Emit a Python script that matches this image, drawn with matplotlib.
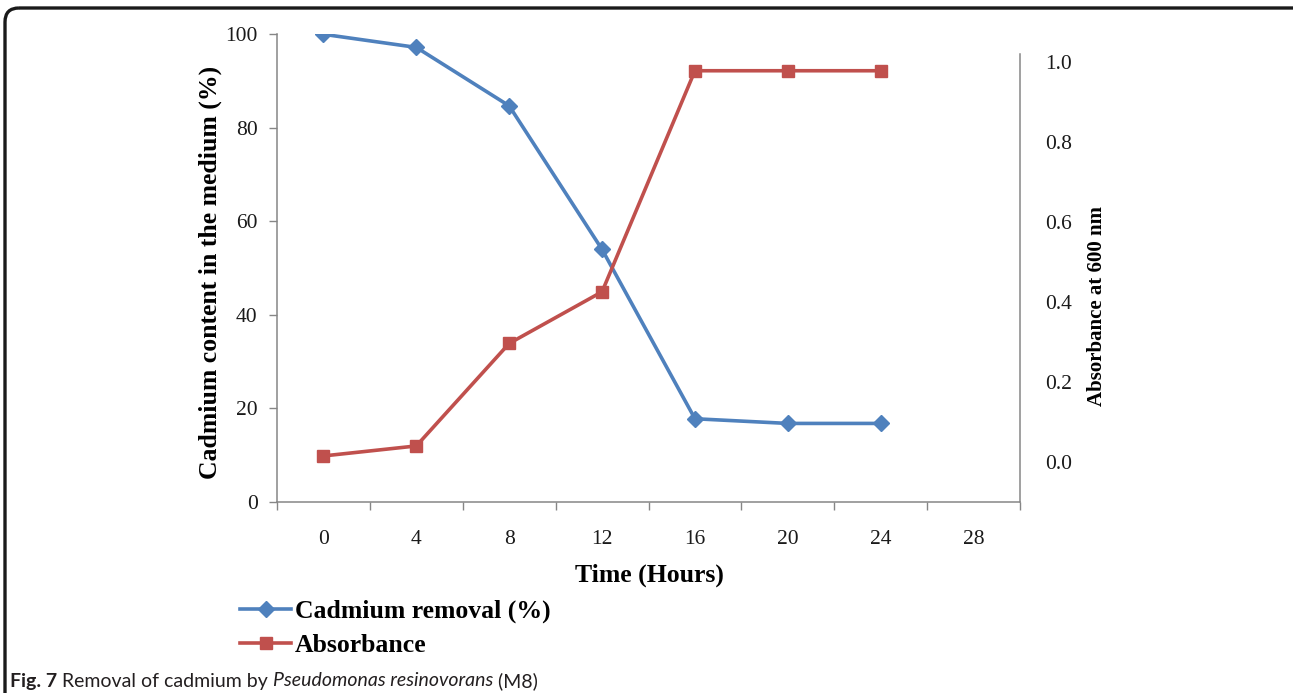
import matplotlib
matplotlib.use('Agg')
import matplotlib.pyplot as plt
from matplotlib.patches import FancyBboxPatch
from matplotlib.font_manager import FontProperties
import numpy as np

# data
hours = [0, 4, 8, 12, 16, 20, 24, 28]
cadmium = [100, 97.2, 84.7, 54.0, 17.8, 16.8, 16.8]
absorbance = [0.015, 0.04, 0.296, 0.425, 0.977, 0.977, 0.977]
left_ticks = [0, 20, 40, 60, 80, 100]
right_ticks = [0.0, 0.2, 0.4, 0.6, 0.8, 1.0]

blue = '#4F81BD'
red = '#C0504D'
grey = '#868686'
serif = 'Liberation Serif'

W, H = 1293, 693
fig = plt.figure(figsize=(W / 100, H / 100), dpi=100)

# background axes in pixel units, for the frame and caption
bg = fig.add_axes([0, 0, 1, 1], zorder=-1)
bg.set_xlim(0, W)
bg.set_ylim(H, 0)
bg.axis('off')
bg.add_patch(FancyBboxPatch((5, 8), 1400, 900, boxstyle='round,pad=0,rounding_size=14',
                            fill=False, lw=2.4, ec='#1a1a1a'))

ax = fig.add_axes([277 / W, 191 / H, 743 / W, 467.7 / H])
x = np.arange(len(cadmium))
l1, = ax.plot(x, cadmium, color=blue, lw=2.6, marker='D', ms=8.5, label='Cadmium removal (%)')
ax.set_xlim(-0.5, len(hours) - 0.5)
ax.set_ylim(0, 100)
ax.set_yticks(left_ticks)
ax.set_xticks(range(len(hours)))
ax.set_xticklabels([str(h) for h in hours])
ax.set_xticks(np.arange(-0.5, len(hours), 1), minor=True)
ax.tick_params(axis='x', which='major', length=0, pad=20)
ax.tick_params(axis='x', which='minor', length=6, color=grey, width=1)
ax.tick_params(axis='y', length=6, color=grey, width=1, pad=8)
for s in ['top', 'right']:
    ax.spines[s].set_visible(False)
for s in ['left', 'bottom']:
    ax.spines[s].set_color(grey)
    ax.spines[s].set_linewidth(1.1)

ax2 = ax.twinx()
l2, = ax2.plot(x, absorbance, color=red, lw=2.6, marker='s', ms=9, label='Absorbance')
ax2.set_ylim(-0.1, 1.068)
ax2.set_yticks(right_ticks)
ax2.set_yticklabels(['%.1f' % v for v in right_ticks])
ax2.tick_params(axis='y', length=0, pad=18)
for s in ['top', 'left', 'bottom']:
    ax2.spines[s].set_visible(False)
ax2.spines['right'].set_color(grey)
ax2.spines['right'].set_linewidth(1.1)
ax2.spines['right'].set_bounds(-0.1, 1.02)

for a in (ax, ax2):
    for lab in a.get_xticklabels() + a.get_yticklabels():
        lab.set_family(serif)
        lab.set_fontsize(15.5)
        lab.set_color('#1a1a1a')

fig.text(210 / W, 1 - 272 / H, 'Cadmium content in the medium (%)', rotation=90,
         ha='center', va='center', fontsize=18.5, fontweight='bold', family=serif)
fig.text(1097 / W, 1 - 306 / H, 'Absorbance at 600 nm', rotation=90,
         ha='center', va='center', fontsize=15, fontweight='bold', family=serif)
fig.text(649 / W, 1 - 575 / H, 'Time (Hours)', ha='center', va='center',
         fontsize=18.5, fontweight='bold', family=serif)

fig.legend([l1, l2], ['Cadmium removal (%)', 'Absorbance'], loc='upper left',
           bbox_to_anchor=(240 / W, 1 - 600 / H), frameon=False,
           prop=FontProperties(family=serif, weight='bold', size=18.5),
           handlelength=2.0, handletextpad=0.15, labelspacing=0.42,
           borderpad=0, borderaxespad=0)

# caption, drawn piece by piece
renderer = fig.canvas.get_renderer()
cx = 10
pieces = [('Fig. 7 ', 'bold', 'normal'),
          ('Removal of cadmium by ', 'normal', 'normal'),
          ('Pseudomonas resinovorans', 'normal', 'italic'),
          (' (M8)', 'normal', 'normal')]
for txt, wt, st in pieces:
    t = bg.text(cx, 681, txt, ha='left', va='center', fontsize=14, family='Lato',
                fontweight=wt, fontstyle=st, color='#231f20')
    cx += t.get_window_extent(renderer).width

fig.savefig('out.png', dpi=100)
